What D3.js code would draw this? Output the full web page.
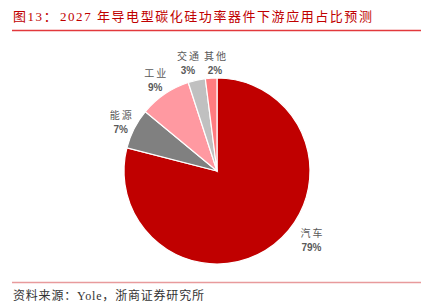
<!DOCTYPE html>
<html>
<head>
<meta charset="utf-8">
<script src="https://cdn.jsdelivr.net/npm/d3@7"></script>
<style>
body { margin: 0; background: #fff; }
svg { display: block; }
</style>
</head>
<body>
<script>
var width = 425,
    height = 304;

// data
var categories = ["汽车", "能源", "工业", "交通", "其他"];
var shares = [79, 7, 9, 3, 2];
var colors = ["#C00000", "#808080", "#FF99A1", "#C0C0C0", "#FF7C80"];
var titleLead = "图13：";
var titleText = "2027 年导电型碳化硅功率器件下游应用占比预测";
var sourceText = "资料来源：Yole，浙商证券研究所";

var cx = 217, cy = 171, radius = 93;

var svg = d3.select("body").append("svg")
    .attr("width", width)
    .attr("height", height);

// title + rule
var title = svg.append("text")
    .attr("y", 21)
    .attr("fill", "#C00000")
    .style("font-family", "'Liberation Serif', 'Noto Sans CJK SC', serif")
    .style("font-size", "13px")
    .style("letter-spacing", "1.55px");
title.append("tspan").attr("x", 13).text(titleLead);
title.append("tspan").attr("x", 60).text(titleText);

svg.append("line")
    .attr("x1", 12).attr("x2", 421)
    .attr("y1", 30.5).attr("y2", 30.5)
    .attr("stroke", "#E2383C")
    .attr("stroke-width", 1.5);

var data = categories.map(function (c, i) {
    return {name: c, value: shares[i], color: colors[i]};
});

var pie = d3.pie()
    .sort(null)
    .value(function (d) { return d.value; });

var arc = d3.arc()
    .innerRadius(0)
    .outerRadius(radius);

var arcs = pie(data);

var g = svg.append("g")
    .attr("transform", "translate(" + cx + "," + cy + ")");

g.selectAll("path")
    .data(arcs)
    .enter().append("path")
    .attr("d", arc)
    .attr("fill", function (d) { return d.data.color; })
    .attr("stroke", "#fff")
    .attr("stroke-width", 1.2);

// label placement nudges (angle in radians, radius in px), like Excel's best fit
var nudge = {
    "汽车": [-0.28, 117],
    "能源": [0, 108],
    "工业": [0, 110],
    "交通": [-0.042, 112],
    "其他": [0.044, 108]
};

function labelPos(d) {
    var n = nudge[d.data.name];
    var a = (d.startAngle + d.endAngle) / 2 + n[0];
    return [Math.sin(a) * n[1], -Math.cos(a) * n[1]];
}

var labels = g.selectAll("g.label")
    .data(arcs)
    .enter().append("g")
    .attr("class", "label")
    .attr("transform", function (d) {
        var p = labelPos(d);
        return "translate(" + p[0] + "," + p[1] + ")";
    });

labels.append("text")
    .attr("text-anchor", "middle")
    .attr("x", 1)
    .attr("y", -3)
    .attr("fill", "#595959")
    .style("font-family", "'Noto Sans CJK SC', sans-serif")
    .style("font-size", "10px")
    .style("letter-spacing", "2px")
    .text(function (d) { return d.data.name; });

labels.append("text")
    .attr("text-anchor", "middle")
    .attr("y", 11)
    .attr("fill", "#595959")
    .style("font-family", "'Liberation Sans', Arial, sans-serif")
    .style("font-size", "10px")
    .style("font-weight", "bold")
    .text(function (d) { return d.data.value + "%"; });

// footer rule + source
svg.append("line")
    .attr("x1", 12).attr("x2", 421)
    .attr("y1", 282.5).attr("y2", 282.5)
    .attr("stroke", "#E89A9C")
    .attr("stroke-width", 1.5);

svg.append("text")
    .attr("x", 13)
    .attr("y", 300)
    .attr("fill", "#333")
    .style("font-family", "'Liberation Serif', 'Noto Sans CJK SC', serif")
    .style("font-size", "12px")
    .style("letter-spacing", "0.8px")
    .text(sourceText);
</script>
</body>
</html>
